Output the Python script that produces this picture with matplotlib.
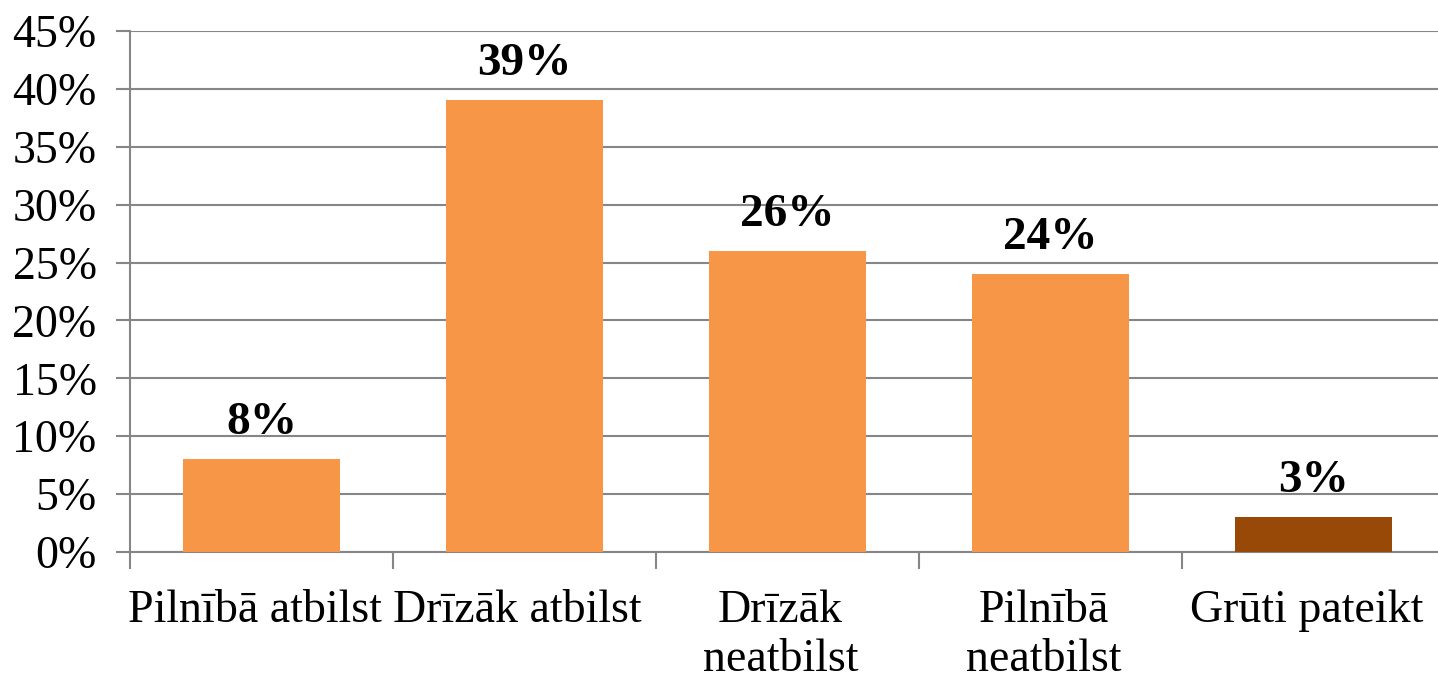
import numpy as np
import matplotlib.pyplot as plt
import matplotlib.transforms as mtransforms
from matplotlib.ticker import MultipleLocator, FuncFormatter

categories = ['Pilnībā atbilst', 'Drīzāk atbilst', 'Drīzāk\nneatbilst', 'Pilnībā\nneatbilst', 'Grūti pateikt']
values = [8, 39, 26, 24, 3]
colors = ['#F79646', '#F79646', '#F79646', '#F79646', '#984807']

plt.rcParams['font.family'] = ['Liberation Serif', 'DejaVu Serif']

fig = plt.figure(figsize=(14.38, 6.8), dpi=100)
ax = fig.add_axes([130/1438, 1-552/680, 1-130/1438, (552-31)/680])

x = np.arange(len(categories))
bars = ax.bar(x, values, width=0.6, color=colors, zorder=3)

for xi, v in zip(x, values):
    ax.annotate(f'{v}%', (xi, v), xytext=(0, 11), textcoords='offset points',
                ha='center', va='bottom', fontsize=34, fontweight='bold')

ax.set_ylim(0, 45)
ax.set_xlim(-0.5, -0.5 + 1308/263)
ax.yaxis.set_major_locator(MultipleLocator(5))
ax.yaxis.set_major_formatter(FuncFormatter(lambda v, p: f'{v:.0f}%'))
ax.grid(axis='y', color='#868686', linewidth=1.5, zorder=0)

ax.set_xticks(x)
ax.set_xticklabels(categories, fontsize=33, linespacing=1.2)
ax.set_xticks(np.arange(len(categories)) - 0.5, minor=True)
ax.tick_params(axis='x', which='major', length=0, pad=27)
ax.tick_params(axis='x', which='minor', length=12, width=1.5, color='#868686')
ax.tick_params(axis='y', length=10, width=1.5, color='#868686', labelsize=33, pad=14)

# labels sit a bit left of the bar centres in the original
shift = mtransforms.ScaledTranslation(-7/100, 0, fig.dpi_scale_trans)
for lbl in ax.get_xticklabels():
    lbl.set_transform(lbl.get_transform() + shift)

for s in ['top', 'right']:
    ax.spines[s].set_visible(False)
for s in ['left', 'bottom']:
    ax.spines[s].set_color('#868686')
    ax.spines[s].set_linewidth(1.5)

fig.savefig('out.png', dpi=100)
